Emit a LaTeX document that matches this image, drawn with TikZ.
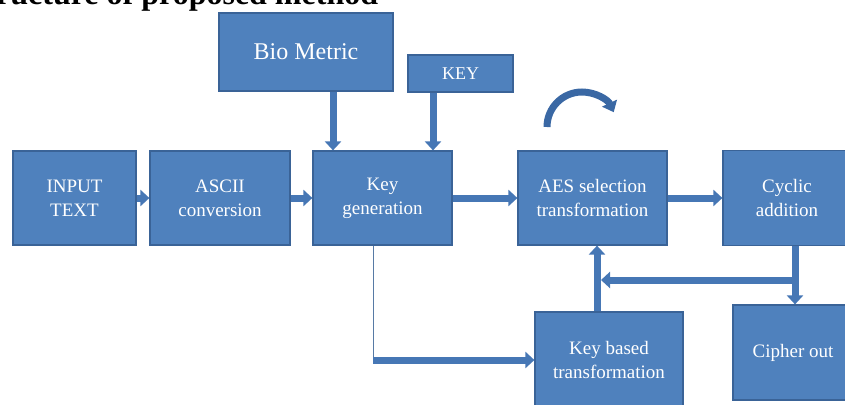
\documentclass[tikz,border=0pt]{standalone}
\usepackage{fontspec}
\setmainfont{Liberation Serif}
\usetikzlibrary{arrows.meta}
\definecolor{boxfill}{HTML}{4F81BD}
\definecolor{boxline}{HTML}{3A6397}
\definecolor{arr}{HTML}{4677B5}
\definecolor{arrdark}{HTML}{3A68A4}
\tikzset{
 box/.style={rectangle, fill=boxfill, draw=boxline, line width=1.2pt, text=white, align=center, inner sep=0pt, font=\fontsize{19}{24}\selectfont},
 blk/.style={draw=arr, line width=7pt, -{Triangle[width=16pt,length=9pt]}},
 thinln/.style={draw=arr!70!gray, line width=0.8pt},
}
\begin{document}
\begin{tikzpicture}[x=1pt,y=-1pt]
\useasboundingbox (0,0) rectangle (845,404);
\clip (0,0) rectangle (845,404);
\node[anchor=base west, inner sep=0pt, font=\bfseries\fontsize{32}{38}\selectfont] (title) at (-4,5) {ructure of proposed method};

\node[box, minimum width=174pt, minimum height=78pt, font=\fontsize{24}{28}\selectfont] (bio) at (306,52) {Bio Metric};
\node[box, minimum width=105pt, minimum height=37pt, font=\fontsize{18}{22}\selectfont] (key) at (460.5,73.5) {KEY};
\node[box, minimum width=123pt, minimum height=94pt] (inp) at (74.5,198) {INPUT\\TEXT};
\node[box, minimum width=140pt, minimum height=94pt] (asc) at (220,198) {ASCII\\conversion};
\node[box, minimum width=139pt, minimum height=94pt] (kg) at (382.5,198) {Key\\generation};
\node[box, minimum width=149pt, minimum height=94pt] (aes) at (592.5,198) {AES selection\\transformation};
\node[box, minimum width=128pt, minimum height=95pt] (cyc) at (787,198) {Cyclic\\addition};
\node[box, minimum width=120pt, minimum height=95pt] (ciph) at (793,352.5) {Cipher out};
\node[box, minimum width=148pt, minimum height=96pt] (kb) at (609,360) {Key based\\transformation};

\coordinate (b1) at ([xshift=27pt]bio.south);
\coordinate (k2) at ([xshift=-27.5pt]key.south);
\coordinate (kg1) at ([xshift=-9.5pt]kg.south);
\coordinate (c1) at ([xshift=8pt]cyc.south);
\coordinate (k1) at ([xshift=-12pt]kb.north);
\coordinate (back) at (700,280);

\draw[blk] (inp.east) -- (asc.west);
\draw[blk] (asc.east) -- (kg.west);
\draw[blk] (b1) -- (b1 |- kg.north);
\draw[blk] (k2) -- (k2 |- kg.north);
\draw[blk] (kg.east) -- (aes.west);
\draw[blk] (aes.east) -- (cyc.west);
\draw[blk] (c1) -- (c1 |- ciph.north);
\draw[blk] (k1) -- (k1 |- aes.south);
\draw[blk, shorten >=4pt] (c1 |- back) -- (k1 |- back);
\draw[thinln] (kg1) -- (kg1 |- kb.west);
\draw[blk] (kg1 |- kb.west) -- (kb.west);

\draw[line width=7pt, arrdark, -{Triangle[width=16pt,length=10pt]}] (547,127) arc[start angle=180, end angle=335, radius=35];
\end{tikzpicture}
\end{document}
